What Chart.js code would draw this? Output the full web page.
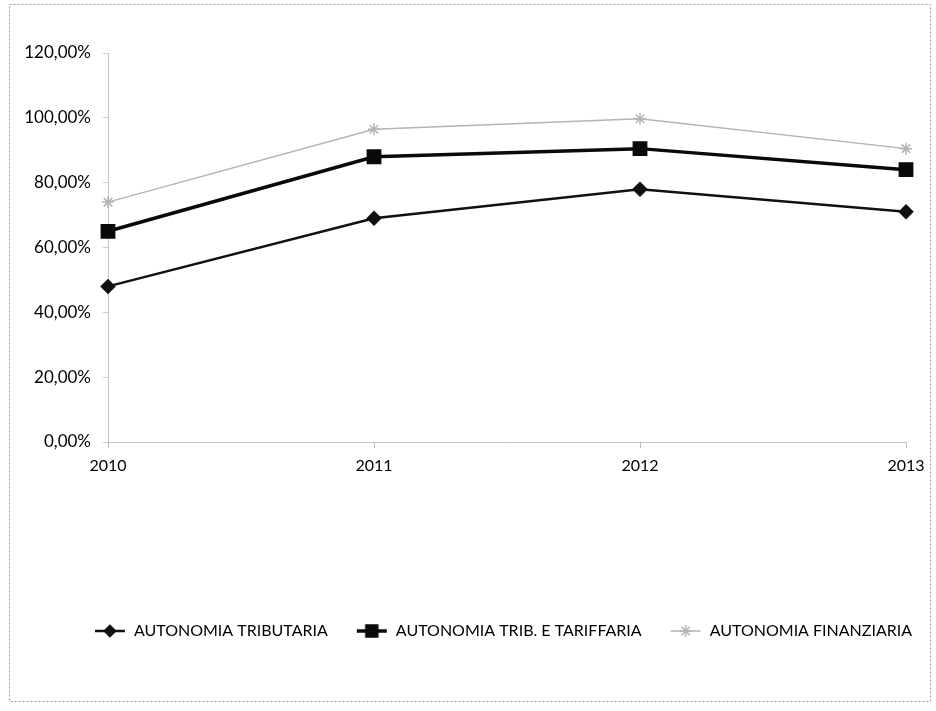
<!DOCTYPE html>
<html>
<head>
<meta charset="utf-8">
<script src="https://cdn.jsdelivr.net/npm/chart.js@4"></script>
<style>
  body { margin: 0; background: #fff; }
  #wrap { width: 936px; height: 711px; position: relative; }
</style>
</head>
<body>
<div id="wrap"><canvas id="myChart" width="936" height="711"></canvas></div>
<script>
var years = ['2010', '2011', '2012', '2013'];
var tributaria = [48, 69, 78, 71];
var tribTariffaria = [65, 88, 90.5, 84];
var finanziaria = [74, 96.5, 99.7, 90.5];
var seriesNames = ['AUTONOMIA TRIBUTARIA', 'AUTONOMIA TRIB. E TARIFFARIA', 'AUTONOMIA FINANZIARIA'];

var FONT = 'Lato, "Open Sans", sans-serif';

// small line+marker icons for the legend, like the excel ones
function legendIcon(color, lineW, style, r) {
    var c = document.createElement('canvas');
    c.width = 32; c.height = 18;
    var g = c.getContext('2d');
    g.strokeStyle = color; g.fillStyle = color; g.lineWidth = lineW;
    g.beginPath(); g.moveTo(1, 9); g.lineTo(31, 9); g.stroke();
    Chart.helpers.drawPoint(g, {pointStyle: style, radius: r, borderWidth: 1}, 16, 9);
    g.fill();
    return c;
}

var frame = {
    id: 'frame',
    beforeDraw: function(chart) {
        var ctx = chart.ctx;
        ctx.save();
        ctx.strokeStyle = '#9a9a9a';
        ctx.lineWidth = 1;
        ctx.setLineDash([2, 2]);
        ctx.strokeRect(9.5, 4.5, 921, 697);
        ctx.restore();
    },
    // legend in the original sits a bit right of centre
    afterLayout: function(chart) {
        if (chart.legend) {
            chart.legend.left += 50;
            chart.legend.right += 50;
        }
    }
};

var data1 = {
    labels: years,
    datasets: [
        {
            label: seriesNames[0],
            data: tributaria,
            borderColor: '#111',
            backgroundColor: '#111',
            borderWidth: 2.5,
            pointStyle: 'rectRot',
            pointRadius: 6,
            pointHoverRadius: 6
        },
        {
            label: seriesNames[1],
            data: tribTariffaria,
            borderColor: '#0a0a0a',
            backgroundColor: '#0a0a0a',
            borderWidth: 3.5,
            pointStyle: 'rect',
            pointRadius: 8,
            pointHoverRadius: 8
        },
        {
            label: seriesNames[2],
            data: finanziaria,
            borderColor: '#b4b4b4',
            backgroundColor: '#b4b4b4',
            borderWidth: 1.5,
            pointStyle: 'star',
            pointRadius: 6,
            pointHoverRadius: 6
        }
    ]
};

var icons = [
    legendIcon('#111', 2.5, 'rectRot', 5),
    legendIcon('#0a0a0a', 3.5, 'rect', 7),
    legendIcon('#b4b4b4', 1.5, 'star', 6)
];

var options = {
    responsive: false,
    animation: false,
    layout: {
        padding: { left: 0, right: 30, top: 53, bottom: 62 }
    },
    plugins: {
        tooltip: { enabled: false },
        legend: {
            position: 'bottom',
            labels: {
                usePointStyle: true,
                pointStyleWidth: 32,
                padding: 28,
                color: '#000',
                font: { family: FONT, size: 16 },
                generateLabels: function(chart) {
                    return chart.data.datasets.map(function(ds, i) {
                        return {
                            text: ds.label,
                            pointStyle: icons[i],
                            fillStyle: ds.borderColor,
                            strokeStyle: ds.borderColor,
                            lineWidth: 0,
                            hidden: false,
                            datasetIndex: i,
                            fontColor: '#000'
                        };
                    });
                }
            }
        }
    },
    scales: {
        x: {
            offset: false,
            grid: {
                display: true,
                drawOnChartArea: false,
                color: '#bbb',
                tickLength: 6
            },
            border: { display: true, color: '#c4c4c4', dash: [2, 2] },
            ticks: {
                color: '#000',
                padding: 8,
                font: { family: FONT, size: 16 }
            },
            afterFit: function(scale) { scale.height = 153; }
        },
        y: {
            min: 0,
            max: 120,
            grid: {
                display: true,
                drawOnChartArea: false,
                color: '#ccc',
                tickLength: 5
            },
            border: { display: true, color: '#c4c4c4', dash: [2, 2] },
            ticks: {
                stepSize: 20,
                color: '#000',
                padding: 12,
                font: { family: FONT, size: 17 },
                callback: function(v) { return v.toFixed(2).replace('.', ',') + '%'; }
            },
            afterFit: function(scale) { scale.width = 108; }
        }
    }
};

var ctx1 = document.getElementById('myChart').getContext('2d');
var myLineChart = new Chart(ctx1, {
    type: 'line',
    data: data1,
    options: options,
    plugins: [frame]
});
</script>
</body>
</html>
